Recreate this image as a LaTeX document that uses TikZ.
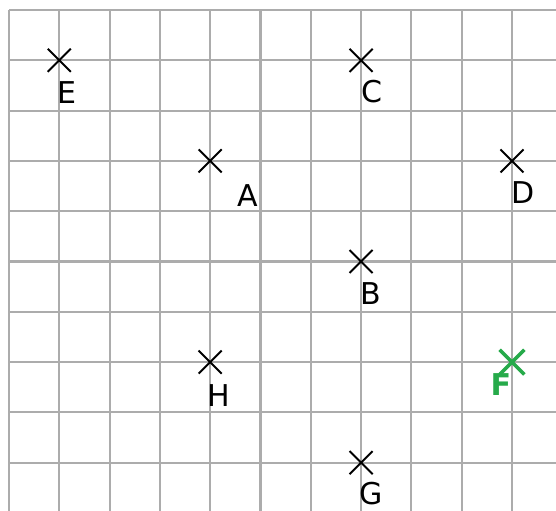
\documentclass[tikz,border=0pt]{standalone}
\usepackage{fontspec}
\setmainfont{DejaVu Sans}
\usetikzlibrary{shapes.misc}
\definecolor{gridgray}{RGB}{172,172,172}
\definecolor{markgreen}{RGB}{38,170,74}

\begin{document}
\begin{tikzpicture}[
    gridline/.style={gridgray, line width=1.2pt},
    pt/.style={cross out, draw, line width=1.1pt, minimum size=0.42cm, inner sep=0pt},
    lbl/.style={font=\fontsize{17}{20}\selectfont, inner sep=0pt}]
  \useasboundingbox (-0.179,0.199) rectangle (10.875,-9.96);
  \draw[gridline] (0,0) grid (10.875,-9.96);
  % points of the grid
  \node[pt] (ptE) at (1,-1) {};
  \node[pt] (ptC) at (7,-1) {};
  \node[pt] (ptA) at (4,-3) {};
  \node[pt] (ptD) at (10,-3) {};
  \node[pt] (ptB) at (7,-5) {};
  \node[pt] (ptH) at (4,-7) {};
  \node[pt, markgreen, line width=2pt] (ptF) at (10,-7) {};
  \node[pt] (ptG) at (7,-9) {};
  % their letters
  \node[lbl] (labE) at (1.16,-1.64) {E};
  \node[lbl] (labC) at (7.22,-1.62) {C};
  \node[lbl] (labA) at (4.74,-3.68) {A};
  \node[lbl] (labD) at (10.22,-3.62) {D};
  \node[lbl] (labB) at (7.2,-5.64) {B};
  \node[lbl] (labH) at (4.18,-7.66) {H};
  \node[lbl, markgreen, font=\fontsize{17}{20}\selectfont\bfseries] (labF) at (9.78,-7.44) {F};
  \node[lbl] (labG) at (7.2,-9.62) {G};
\end{tikzpicture}
\end{document}
